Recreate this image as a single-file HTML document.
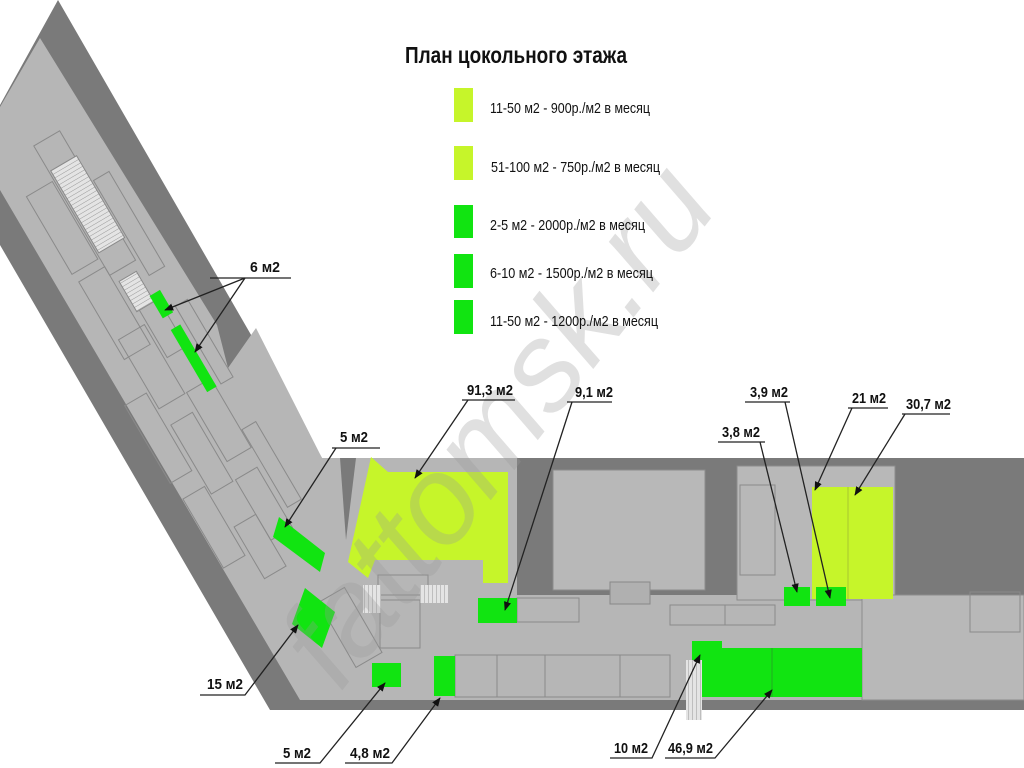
<!DOCTYPE html>
<html><head><meta charset="utf-8"><style>
html,body{margin:0;padding:0;background:#fff;}
svg{display:block;}
text{font-family:"Liberation Sans",sans-serif;}
.lb{font-size:15px;font-weight:bold;fill:#111;}
.lg{font-size:15px;fill:#111;}
</style></head><body>
<svg width="1024" height="768" viewBox="0 0 1024 768" xmlns="http://www.w3.org/2000/svg">
<defs>
<marker id="ar" viewBox="0 0 10 10" refX="9" refY="5" markerWidth="7" markerHeight="7" orient="auto"><path d="M0,1 L10,5 L0,9 z" fill="#111"/></marker>
<pattern id="hat" width="4" height="4" patternUnits="userSpaceOnUse"><rect width="4" height="4" fill="#e4e4e4"/><line x1="0" y1="0" x2="0" y2="4" stroke="#999" stroke-width="1"/></pattern>
</defs>
<!-- outer dark -->
<polygon points="58,0 322,458 1024,458 1024,710 270,710 0,245 0,105" fill="#7a7a7a"/>
<!-- light interior -->
<polygon points="40,38 0,107 0,190 300,700 1024,700 1024,595 517,595 517,458 322,458 256,328 228,368 217,325" fill="#b6b6b6"/>
<polygon points="340,458 356,458 346,540" fill="#7a7a7a"/>
<rect x="553" y="470" width="152" height="120" fill="#b8b8b8" stroke="#8c8c8c"/>
<rect x="737" y="466" width="158" height="134" fill="#b8b8b8" stroke="#8c8c8c"/>
<rect x="862" y="595" width="162" height="105" fill="#b8b8b8" stroke="#8c8c8c"/>
<rect x="610" y="582" width="40" height="22" fill="#b0b0b0" stroke="#888"/>
<g fill="none" stroke="#8a8a8a" stroke-width="1">
<rect x="455" y="655" width="42" height="42"/><rect x="497" y="655" width="48" height="42"/>
<rect x="545" y="655" width="75" height="42"/><rect x="620" y="655" width="50" height="42"/>
<rect x="517" y="598" width="62" height="24"/><rect x="670" y="605" width="55" height="20"/>
<rect x="725" y="605" width="50" height="20"/><rect x="380" y="600" width="40" height="48"/>
<rect x="378" y="575" width="50" height="20"/><rect x="740" y="485" width="35" height="90"/>
<rect x="970" y="592" width="50" height="40"/><rect x="335" y="590" width="30" height="75" transform="rotate(-30 350 627)"/>
</g>
<rect x="363" y="585" width="18" height="28" fill="url(#hat)"/>
<rect x="420" y="585" width="28" height="18" fill="url(#hat)"/>
<rect x="686" y="660" width="16" height="60" fill="url(#hat)"/>
<!-- diagonal inner outlines (rotated frame) -->
<g transform="translate(40,38) rotate(59.6)" fill="none" stroke="#8a8a8a" stroke-width="1">
<rect x="90" y="30" width="150" height="30"/><rect x="130" y="62" width="90" height="30"/>
<rect x="150" y="8" width="110" height="18"/><rect x="230" y="60" width="90" height="30"/>
<rect x="280" y="30" width="60" height="22"/><rect x="300" y="55" width="80" height="30"/>
<rect x="300" y="5" width="90" height="14"/><rect x="360" y="88" width="90" height="25"/>
<rect x="380" y="25" width="80" height="28"/><rect x="400" y="58" width="80" height="25"/>
<rect x="440" y="8" width="90" height="16"/><rect x="480" y="30" width="70" height="25"/>
<rect x="470" y="85" width="80" height="25"/><rect x="520" y="55" width="60" height="25"/>
<rect x="120" y="28" width="95" height="30" fill="url(#hat)"/>
<rect x="250" y="35" width="35" height="20" fill="url(#hat)"/>
<rect x="278" y="24" width="26" height="12" fill="#11e411" stroke="none"/>
<rect x="318" y="24" width="72" height="11" fill="#11e411" stroke="none"/>
</g>
<!-- yellow units -->
<polygon points="371,457 388,472 508,472 508,583 483,583 483,560 375,560 368,578 348,562" fill="#c6f52a"/>
<rect x="812" y="487" width="81" height="112" fill="#c6f52a"/>
<line x1="848" y1="487" x2="848" y2="599" stroke="#a8c830"/>
<!-- green units -->
<g fill="#11e411">
<polygon points="279,517 325,553 320,572 273,537"/>
<polygon points="305,588 335,612 322,648 292,624"/>
<rect x="478" y="598" width="39" height="25"/>
<rect x="784" y="587" width="26" height="19"/>
<rect x="816" y="587" width="30" height="19"/>
<rect x="692" y="641" width="30" height="19"/>
<rect x="702" y="648" width="160" height="49"/>
<rect x="372" y="663" width="29" height="24"/>
<rect x="434" y="656" width="21" height="40"/>
</g>
<line x1="772" y1="648" x2="772" y2="697" stroke="#2a2"/>
<!-- watermark -->
<text x="0" y="0" transform="translate(530,450) rotate(-52)" font-family="Liberation Serif,serif" font-style="italic" font-size="125" fill="#999" fill-opacity="0.3" text-anchor="middle">fattomsk.ru</text>
<!-- title & legend -->
<text x="405" y="63" font-size="23" font-weight="bold" fill="#111" textLength="222" lengthAdjust="spacingAndGlyphs">План цокольного этажа</text>
<rect x="454" y="88" width="19" height="34" fill="#c6f52a"/>
<rect x="454" y="146" width="19" height="34" fill="#c6f52a"/>
<rect x="454" y="205" width="19" height="33" fill="#11e411"/>
<rect x="454" y="254" width="19" height="34" fill="#11e411"/>
<rect x="454" y="300" width="19" height="34" fill="#11e411"/>
<text class="lg" x="490" y="113" textLength="160" lengthAdjust="spacingAndGlyphs">11-50 м2 - 900р./м2 в месяц</text>
<text class="lg" x="491" y="172" textLength="169" lengthAdjust="spacingAndGlyphs">51-100 м2 - 750р./м2 в месяц</text>
<text class="lg" x="490" y="230" textLength="155" lengthAdjust="spacingAndGlyphs">2-5 м2 - 2000р./м2 в месяц</text>
<text class="lg" x="490" y="278" textLength="163" lengthAdjust="spacingAndGlyphs">6-10 м2 - 1500р./м2 в месяц</text>
<text class="lg" x="490" y="326" textLength="168" lengthAdjust="spacingAndGlyphs">11-50 м2 - 1200р./м2 в месяц</text>
<!-- labels -->
<g stroke="#222" stroke-width="1.3" fill="none">
<path d="M210,278 H291"/><path d="M245,278 L165,310" marker-end="url(#ar)"/><path d="M245,278 L195,352" marker-end="url(#ar)"/>
<path d="M462,400 H515"/><path d="M468,400 L415,478" marker-end="url(#ar)"/>
<path d="M567,402 H612"/><path d="M572,402 L505,610" marker-end="url(#ar)"/>
<path d="M332,448 H380"/><path d="M336,448 L285,527" marker-end="url(#ar)"/>
<path d="M745,402 H790"/><path d="M785,402 L830,598" marker-end="url(#ar)"/>
<path d="M718,442 H765"/><path d="M760,442 L797,592" marker-end="url(#ar)"/>
<path d="M848,408 H888"/><path d="M852,408 L815,490" marker-end="url(#ar)"/>
<path d="M902,414 H950"/><path d="M905,414 L855,495" marker-end="url(#ar)"/>
<path d="M200,695 H245 L298,625" marker-end="url(#ar)"/>
<path d="M275,763 H320 L385,683" marker-end="url(#ar)"/>
<path d="M345,763 H392 L440,698" marker-end="url(#ar)"/>
<path d="M610,758 H652 L700,655" marker-end="url(#ar)"/>
<path d="M665,758 H715 L772,690" marker-end="url(#ar)"/>
</g>
<g class="lb">
<text class="lb" x="250" y="272" textLength="30" lengthAdjust="spacingAndGlyphs">6 м2</text>
<text class="lb" x="467" y="395" textLength="46" lengthAdjust="spacingAndGlyphs">91,3 м2</text>
<text class="lb" x="575" y="397" textLength="38" lengthAdjust="spacingAndGlyphs">9,1 м2</text>
<text class="lb" x="340" y="442" textLength="28" lengthAdjust="spacingAndGlyphs">5 м2</text>
<text class="lb" x="750" y="397" textLength="38" lengthAdjust="spacingAndGlyphs">3,9 м2</text>
<text class="lb" x="722" y="437" textLength="38" lengthAdjust="spacingAndGlyphs">3,8 м2</text>
<text class="lb" x="852" y="403" textLength="34" lengthAdjust="spacingAndGlyphs">21 м2</text>
<text class="lb" x="906" y="409" textLength="45" lengthAdjust="spacingAndGlyphs">30,7 м2</text>
<text class="lb" x="207" y="689" textLength="36" lengthAdjust="spacingAndGlyphs">15 м2</text>
<text class="lb" x="283" y="758" textLength="28" lengthAdjust="spacingAndGlyphs">5 м2</text>
<text class="lb" x="350" y="758" textLength="40" lengthAdjust="spacingAndGlyphs">4,8 м2</text>
<text class="lb" x="614" y="753" textLength="34" lengthAdjust="spacingAndGlyphs">10 м2</text>
<text class="lb" x="668" y="753" textLength="45" lengthAdjust="spacingAndGlyphs">46,9 м2</text>
</g>
</svg>
</body></html>
